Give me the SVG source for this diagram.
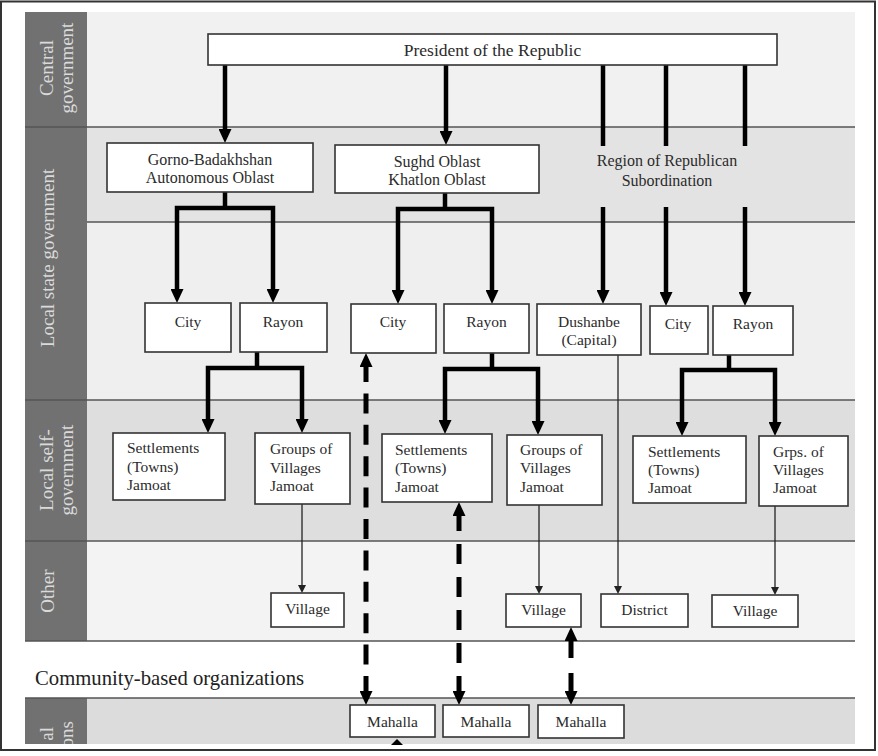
<svg xmlns="http://www.w3.org/2000/svg" width="878" height="756" viewBox="0 0 878 756">
<style>
.box{fill:#fff;stroke:#333;stroke-width:1.6}
.t{font-family:"Liberation Serif","Times New Roman",serif;font-size:15.5px;fill:#2b2b2b}
.o{font-size:16px}
.c{text-anchor:middle}
.lbl{font-family:"Liberation Serif","Times New Roman",serif;font-size:19px;fill:#dadada;text-anchor:middle}
.band{stroke:#555;stroke-width:1.3}
.thick{stroke:#000;stroke-width:4.5;fill:none;stroke-linejoin:miter}
.thin{stroke:#222;stroke-width:1.3;fill:none}
.dash{stroke:#000;stroke-width:5;fill:none}
.ah{marker-end:url(#ah)}
.ah2{marker-start:url(#ah);marker-end:url(#ah)}
.as{marker-end:url(#as)}
</style>
<defs>
<marker id="ah" viewBox="0 0 14 13" markerWidth="14" markerHeight="13" refX="5" refY="6.5" orient="auto-start-reverse" markerUnits="userSpaceOnUse"><path d="M0,0 L14,6.5 L0,13 z" fill="#000"/></marker>
<marker id="as" viewBox="0 0 8 8" markerWidth="8" markerHeight="8" refX="2" refY="4" orient="auto" markerUnits="userSpaceOnUse"><path d="M0,0 L8,4 L0,8 z" fill="#222"/></marker>
<clipPath id="clipb"><rect x="25" y="698" width="62" height="46"/></clipPath>
</defs>
<rect x="0" y="0" width="878" height="756" fill="#fff"/>
<rect x="1" y="1.5" width="874" height="748.5" fill="none" stroke="#333" stroke-width="2"/>
<g id="bands">
<rect x="87" y="12" width="768" height="115" fill="#f1f1f1"/>
<rect x="87" y="127" width="768" height="95" fill="#e3e3e3"/>
<rect x="87" y="222" width="768" height="178" fill="#efefef"/>
<rect x="87" y="400" width="768" height="141" fill="#dedede"/>
<rect x="87" y="541" width="768" height="100" fill="#f3f3f3"/>
<rect x="25" y="641" width="830" height="57" fill="#fff"/>
<rect x="87" y="698" width="768" height="46" fill="#dcdcdc"/>
<rect x="25" y="12" width="62" height="629" fill="#717171"/>
<rect x="25" y="698" width="62" height="46" fill="#717171"/>
<line class="band" x1="25" y1="127" x2="855" y2="127"/>
<line class="band" x1="87" y1="222" x2="855" y2="222"/>
<line class="band" x1="25" y1="400" x2="855" y2="400"/>
<line class="band" x1="25" y1="541" x2="855" y2="541"/>
<line class="band" x1="25" y1="641" x2="855" y2="641"/>
<line class="band" x1="25" y1="698" x2="855" y2="698"/>
<text class="lbl" transform="translate(53,68) rotate(-90)">Central</text>
<text class="lbl" transform="translate(73,68) rotate(-90)">government</text>
<text class="lbl" transform="translate(54,258) rotate(-90)">Local state government</text>
<text class="lbl" transform="translate(53,470) rotate(-90)">Local self-</text>
<text class="lbl" transform="translate(73,470) rotate(-90)">government</text>
<text class="lbl" transform="translate(54,591) rotate(-90)">Other</text>
<g clip-path="url(#clipb)">
<text class="lbl" style="text-anchor:end" transform="translate(53,727) rotate(-90)">al</text>
<text class="lbl" style="text-anchor:end" transform="translate(73,721) rotate(-90)">ons</text>
</g>
<text x="35" y="685" style="font-family:'Liberation Serif','Times New Roman',serif;font-size:20.7px;fill:#222">Community-based organizations</text>
</g>
<g id="connectors">
<path class="thick ah" d="M225,65 V134"/>
<path class="thick ah" d="M446,65 V136"/>
<path class="thick" d="M603,65 V146 M666,65 V146 M745,65 V146"/>
<path class="thick ah" d="M603,207 V295"/>
<path class="thick ah" d="M666,207 V297"/>
<path class="thick ah" d="M745,207 V297"/>
<path class="thick" d="M225,192 V208"/>
<path class="thick ah2" d="M177,294 V208 H273 V294"/>
<path class="thick" d="M445,193 V209"/>
<path class="thick ah2" d="M398,295 V209 H492 V295"/>
<path class="thick" d="M257,352 V368"/>
<path class="thick ah2" d="M208,424 V368 H302 V424"/>
<path class="thick" d="M492,353 V369"/>
<path class="thick ah2" d="M445,425 V369 H538 V426"/>
<path class="thick" d="M729,355 V370"/>
<path class="thick ah2" d="M682,427 V370 H775 V427"/>
<path class="thin as" d="M302,504 V587"/>
<path class="thin as" d="M539,505 V588"/>
<path class="thin as" d="M618,355 V588"/>
<path class="thin as" d="M775,506 V589"/>
<path class="dash ah2" stroke-dasharray="20 11.4" d="M366,362 V696"/>
<path class="dash ah2" stroke-dasharray="20 13" d="M459,511 V696"/>
<path class="dash ah2" stroke-dasharray="22 15 23" d="M571,636 V696"/>
<polygon points="397,739 403,745 391,745" fill="#000"/>
</g>
<g id="president"><rect class="box" x="208" y="34" width="569" height="31"/><text class="t c" x="492.5" y="56" style="font-size:17.5px">President of the Republic</text></g>
<g id="gorno"><rect class="box" x="107" y="143" width="206" height="49"/><text class="t o c" x="210" y="165">Gorno-Badakhshan</text><text class="t o c" x="210" y="183">Autonomous Oblast</text></g>
<g id="sughd"><rect class="box" x="335" y="145" width="204" height="48"/><text class="t o c" x="437" y="167">Sughd Oblast</text><text class="t o c" x="437" y="185">Khatlon Oblast</text></g>
<g id="region"><text class="t o c" x="667" y="166">Region of Republican</text><text class="t o c" x="667" y="186">Subordination</text></g>
<g id="city1"><rect class="box" x="145" y="303" width="86" height="49"/><text class="t c" x="188" y="327">City</text></g>
<g id="rayon1"><rect class="box" x="240" y="303" width="87" height="49"/><text class="t c" x="283" y="327">Rayon</text></g>
<g id="city2"><rect class="box" x="351" y="304" width="85" height="49"/><text class="t c" x="393" y="327">City</text></g>
<g id="rayon2"><rect class="box" x="444" y="304" width="85" height="49"/><text class="t c" x="486.5" y="327">Rayon</text></g>
<g id="dushanbe"><rect class="box" x="537" y="304" width="104" height="51"/><text class="t c" x="589" y="327">Dushanbe</text><text class="t c" x="589" y="345">(Capital)</text></g>
<g id="city3"><rect class="box" x="650" y="306" width="58" height="48"/><text class="t c" x="678" y="329">City</text></g>
<g id="rayon3"><rect class="box" x="713" y="306" width="80" height="49"/><text class="t c" x="753" y="329">Rayon</text></g>
<g id="settlements1"><rect class="box" x="113" y="433" width="112" height="67"/><text class="t" x="127" y="453">Settlements</text><text class="t" x="127" y="471.5">(Towns)</text><text class="t" x="127" y="490">Jamoat</text></g>
<g id="groups1"><rect class="box" x="255" y="433" width="95" height="71"/><text class="t" x="270" y="454">Groups of</text><text class="t" x="270" y="472.5">Villages</text><text class="t" x="270" y="491">Jamoat</text></g>
<g id="settlements2"><rect class="box" x="382" y="434" width="110" height="68"/><text class="t" x="395" y="455">Settlements</text><text class="t" x="395" y="473">(Towns)</text><text class="t" x="395" y="492">Jamoat</text></g>
<g id="groups2"><rect class="box" x="507" y="435" width="95" height="70"/><text class="t" x="520" y="455">Groups of</text><text class="t" x="520" y="473">Villages</text><text class="t" x="520" y="492">Jamoat</text></g>
<g id="settlements3"><rect class="box" x="633" y="436" width="113" height="67"/><text class="t" x="648" y="457">Settlements</text><text class="t" x="648" y="475">(Towns)</text><text class="t" x="648" y="493">Jamoat</text></g>
<g id="groups3"><rect class="box" x="759" y="436" width="89" height="70"/><text class="t" x="773" y="457">Grps. of</text><text class="t" x="773" y="475">Villages</text><text class="t" x="773" y="493">Jamoat</text></g>
<g id="village1"><rect class="box" x="271" y="593" width="73" height="34"/><text class="t c" x="307.5" y="614">Village</text></g>
<g id="village2"><rect class="box" x="506" y="594" width="75" height="33"/><text class="t c" x="543.5" y="615">Village</text></g>
<g id="district"><rect class="box" x="601" y="594" width="87" height="33"/><text class="t c" x="644.5" y="615">District</text></g>
<g id="village3"><rect class="box" x="712" y="595" width="86" height="32"/><text class="t c" x="755" y="616">Village</text></g>
<g id="mahalla1"><rect class="box" x="350" y="705" width="85" height="32"/><text class="t c" x="392.5" y="727">Mahalla</text></g>
<g id="mahalla2"><rect class="box" x="443" y="705" width="86" height="32"/><text class="t c" x="486" y="727">Mahalla</text></g>
<g id="mahalla3"><rect class="box" x="538" y="705" width="86" height="33"/><text class="t c" x="581" y="727">Mahalla</text></g>
</svg>
